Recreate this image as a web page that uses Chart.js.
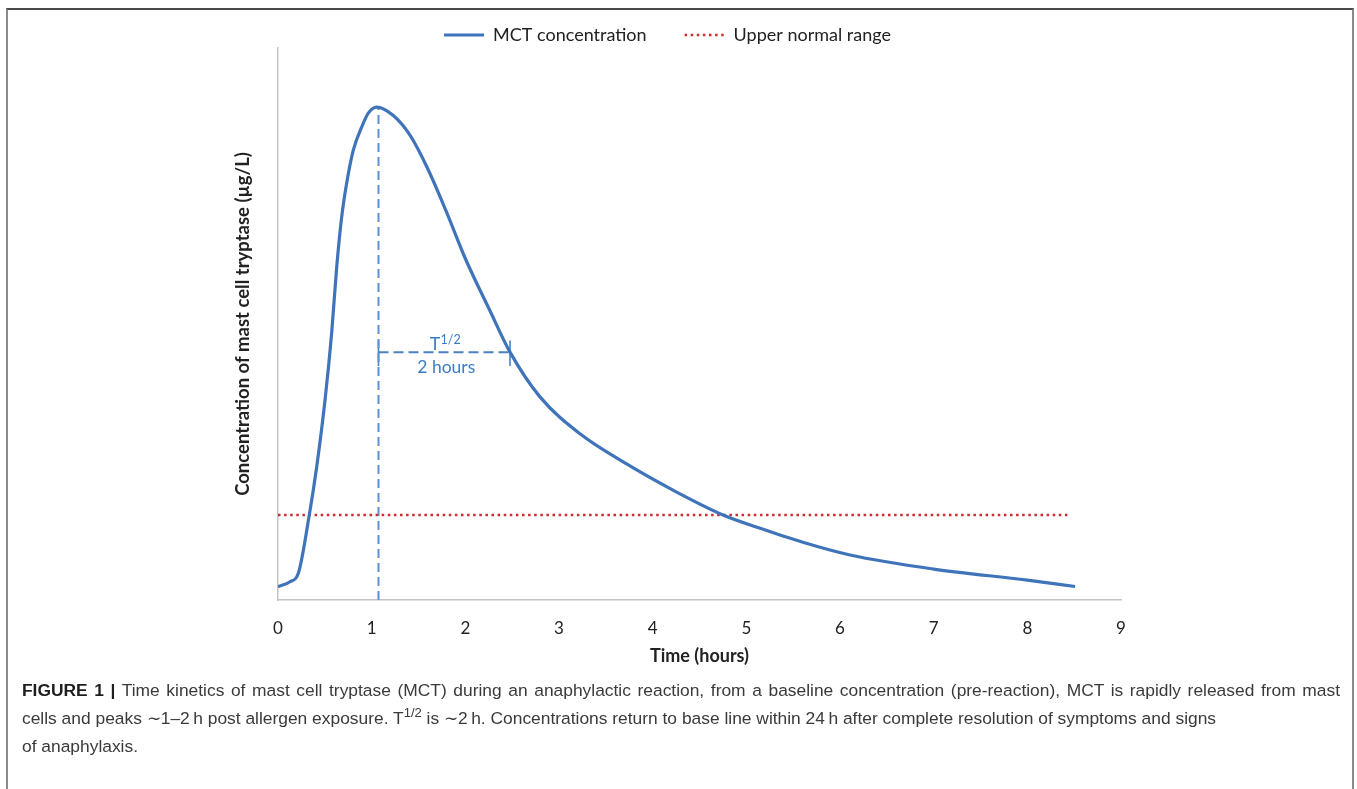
<!DOCTYPE html>
<html>
<head>
<meta charset="utf-8">
<script src="https://cdn.jsdelivr.net/npm/chart.js@4.4.1/dist/chart.umd.min.js"></script>
<style>
  html, body { margin: 0; padding: 0; background: #fff; width: 1357px; height: 789px; overflow: hidden; }
  #frame { position: absolute; left: 6px; top: 8px; width: 1344px; height: 800px;
           border-top: 2px solid #4a4a4a; border-left: 2px solid #8a8a8a; border-right: 2px solid #8a8a8a; }
  #chart { position: absolute; left: 0; top: 0; }
  #cap { position: absolute; left: 22px; top: 677px; font-family: "Liberation Sans", Arial, sans-serif;
         font-size: 17.4px; line-height: 27.5px; color: #3a3a3a; white-space: nowrap; }
  #cap div { width: 1318px; }
  #cap .just { text-align: justify; text-align-last: justify; }
  #cap b { color: #1e1e1e; }
  #cap sup { font-size: 0.75em; vertical-align: baseline; position: relative; top: -0.5em; }
</style>
</head>
<body>
<div id="frame"></div>
<canvas id="chart" width="1357" height="680"></canvas>
<div id="cap">
  <div class="just"><b>FIGURE 1 |</b> Time kinetics of mast cell tryptase (MCT) during an anaphylactic reaction, from a baseline concentration (pre-reaction), MCT is rapidly released from mast</div>
  <div>cells and peaks ∼1–2&#8201;h post allergen exposure. T<sup>1/2</sup> is ∼2&#8201;h. Concentrations return to base line within 24&#8201;h after complete resolution of symptoms and signs</div>
  <div>of anaphylaxis.</div>
</div>
<script>
// ---- data ----
const mctTime = [0, 0.128, 0.217, 0.334, 0.413, 0.502, 0.573, 0.627, 0.680, 0.733, 0.804, 0.894, 0.964, 1.054,
                 1.228, 1.409, 1.591, 1.794, 1.996, 2.263, 2.477, 2.797, 3.224, 3.726, 4.217, 4.751, 5.146, 5.594,
                 6.107, 7.0, 8.0, 8.51];
const mctConc = [2.4, 3.3, 4.84, 15.4, 24.1, 36.2, 48.4, 60.4, 69.4, 75.5, 81.5, 85.7, 88.2, 89.3,
                 87.8, 84.2, 78.4, 70.5, 62.0, 52.4, 44.9, 36.8, 30.1, 24.6, 19.9, 15.4, 13.0, 10.5,
                 8.15, 5.6, 3.6, 2.45];
const upperNormalTime = [0, 8.455];
const upperNormalConc = [15.4, 15.4];
const peakLineTime = [1.073, 1.073];
const peakLineConc = [0, 89.3];
const halfLifeTime = [1.073, 2.477];
const halfLifeConc = [44.9, 44.9];
const halfTickConc = [47.0, 42.4];
const xTickLabels = ['0', '1', '2', '3', '4', '5', '6', '7', '8', '9'];
const seriesNames = ['MCT concentration', 'Upper normal range'];
const halfLifeLabel = ['T', '1/2', '2 hours'];

const pts = (xs, ys) => xs.map((x, i) => ({ x: x, y: ys[i] }));

const annotationText = {
  id: 'annotationText',
  afterLayout(chart) {
    const lg = chart.legend;
    if (lg) { lg.left -= 7; lg.right -= 7; lg.top -= 16; }
  },
  afterDatasetsDraw(chart) {
    const ctx = chart.ctx, xs = chart.scales.x, ys = chart.scales.y;
    const cx = xs.getPixelForValue((halfLifeTime[0] + halfLifeTime[1]) / 2);
    const cy = ys.getPixelForValue(halfLifeConc[0]);
    ctx.save();
    ctx.fillStyle = '#3b7dc4';
    ctx.textBaseline = 'alphabetic';
    ctx.font = '18px Lato';
    const wT = ctx.measureText(halfLifeLabel[0]).width;
    ctx.font = '12.5px Lato';
    const wS = ctx.measureText(halfLifeLabel[1]).width;
    const start = cx - (wT + wS) / 2 + 1;
    ctx.textAlign = 'left';
    ctx.font = '18px Lato';
    ctx.fillText(halfLifeLabel[0], start, cy - 2);
    ctx.font = '12.5px Lato';
    ctx.fillText(halfLifeLabel[1], start + wT, cy - 8);
    ctx.font = '17.5px Lato';
    ctx.textAlign = 'center';
    ctx.fillText(halfLifeLabel[2], cx + 2, cy + 21);
    ctx.restore();
  }
};

new Chart(document.getElementById('chart'), {
  type: 'line',
  data: {
    datasets: [
      { label: seriesNames[0], data: pts(mctTime, mctConc), borderColor: '#3f74ba', borderWidth: 3.2,
        pointRadius: 0, cubicInterpolationMode: 'monotone', fill: false },
      { label: seriesNames[1], data: pts(upperNormalTime, upperNormalConc), borderColor: '#cf2a2e', borderWidth: 2.5,
        borderDash: [2.5, 3.6], pointRadius: 0, tension: 0, fill: false },
      { label: 'peak', data: pts(peakLineTime, peakLineConc), borderColor: '#5b90d2', borderWidth: 2,
        borderDash: [9, 5], pointRadius: 0, tension: 0 },
      { label: 'half', data: pts(halfLifeTime, halfLifeConc), borderColor: '#4a82c2', borderWidth: 2,
        borderDash: [10, 5], pointRadius: 0, tension: 0 },
      { label: 'tickR', data: pts([halfLifeTime[1], halfLifeTime[1]], halfTickConc), borderColor: '#4a82c2',
        borderWidth: 1.6, pointRadius: 0, tension: 0 },
      { label: 'tickL', data: pts([halfLifeTime[0], halfLifeTime[0]], halfTickConc), borderColor: '#4a82c2',
        borderWidth: 1.6, pointRadius: 0, tension: 0 }
    ]
  },
  options: {
    responsive: false,
    animation: false,
    devicePixelRatio: 1,
    layout: { padding: { left: 228, right: 236, top: 4, bottom: 9 } },
    plugins: {
      tooltip: { enabled: false },
      legend: {
        position: 'top',
        maxHeight: 44,
        labels: {
          filter: item => item.datasetIndex < 2,
          generateLabels: (chart) => {
            const items = Chart.defaults.plugins.legend.labels.generateLabels(chart);
            items.forEach(it => {
              const ds = chart.data.datasets[it.datasetIndex];
              it.lineDash = ds.borderDash || [];
              it.lineWidth = it.datasetIndex === 0 ? 3 : 2.5;
              it.strokeStyle = ds.borderColor;
              it.lineCap = 'butt';
            });
            return items;
          },
          usePointStyle: true,
          pointStyle: 'line',
          pointStyleWidth: 40,
          padding: 38,
          color: '#222',
          font: { family: 'Lato', size: 18 }
        }
      }
    },
    scales: {
      x: {
        type: 'linear', min: 0, max: 9,
        grid: { display: false, drawTicks: false },
        border: { display: true, color: '#c4c4c4', width: 1.5 },
        ticks: { stepSize: 1, padding: 18, color: '#222', font: { family: 'Lato', size: 17 },
                 callback: (v) => xTickLabels[v] },
        title: { display: true, text: 'Time (hours)', color: '#222',
                 font: { family: 'Lato', size: 18, weight: 'bold' } },
        afterFit: (s) => { s.height = 71; }
      },
      y: {
        min: 0, max: 100,
        grid: { display: false, drawTicks: false },
        border: { display: true, color: '#c4c4c4', width: 1.5 },
        ticks: { display: false },
        title: { display: true, text: 'Concentration of mast cell tryptase (µg/L)', color: '#222',
                 font: { family: 'Lato', size: 18.5, weight: 'bold' } },
        afterFit: (s) => { s.width = 50; }
      }
    }
  },
  plugins: [annotationText]
});
</script>
</body>
</html>
